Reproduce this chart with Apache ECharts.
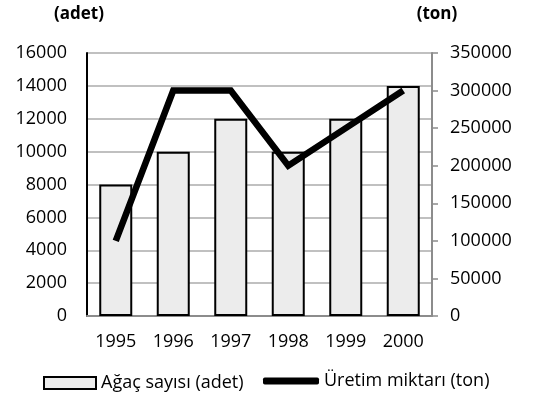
<!DOCTYPE html>
<html>
<head>
<meta charset="utf-8">
<script src="https://cdn.jsdelivr.net/npm/echarts@6/dist/echarts.min.js"></script>
<style>
  html, body { margin: 0; padding: 0; background: #fff; }
  #chart { width: 533px; height: 414px; }
</style>
</head>
<body>
<div id="chart"></div>
<script>
// veriler
var years = ['1995', '1996', '1997', '1998', '1999', '2000'];
var agacSayisi = [8000, 10000, 12000, 10000, 12000, 14000];
var uretimMiktari = [100000, 300000, 300000, 200000, 250000, 300000];
var barName = 'Ağaç sayısı (adet)';
var lineName = 'Üretim miktarı (ton)';

var font = '"Open Sans", sans-serif';
var chart = echarts.init(document.getElementById('chart'));

// binlik ayırıcı olmadan yaz
function plain(v) {
    return String(v);
}

var option = {
    animation: false,
    textStyle: { fontFamily: font },
    grid: { left: 87, right: 101, top: 53, bottom: 98 },
    legend: [
        {
            left: 38,
            bottom: 17,
            itemWidth: 52,
            itemHeight: 12,
            itemGap: 4,
            textStyle: { fontSize: 18, color: '#000', fontFamily: font },
            data: [{ name: barName, icon: 'rect' }]
        },
        {
            left: 258,
            bottom: 19,
            itemWidth: 56,
            itemHeight: 7,
            itemGap: 4,
            textStyle: { fontSize: 18, color: '#000', fontFamily: font },
            data: [{ name: lineName, icon: 'roundRect', itemStyle: { color: '#000', borderWidth: 0 } }]
        }
    ],
    xAxis: {
        type: 'category',
        data: years,
        axisLine: { lineStyle: { color: '#8c8c8c', width: 2 } },
        axisTick: { show: false },
        axisLabel: { color: '#000', fontSize: 18, margin: 17 }
    },
    yAxis: [
        {
            type: 'value',
            min: 0,
            max: 16000,
            interval: 2000,
            name: '(adet)',
            nameLocation: 'end',
            nameGap: 30,
            nameTextStyle: { fontWeight: 'bold', fontSize: 17, color: '#000', padding: [0, 16, 0, 0] },
            axisLine: { show: true, lineStyle: { color: '#000', width: 2 } },
            axisTick: { show: false },
            axisLabel: { color: '#000', fontSize: 18, margin: 20, formatter: plain },
            splitLine: { lineStyle: { color: '#c0c0c0', width: 2 } }
        },
        {
            type: 'value',
            min: 0,
            max: 350000,
            interval: 50000,
            name: '(ton)',
            nameLocation: 'end',
            nameGap: 30,
            nameTextStyle: { fontWeight: 'bold', fontSize: 17, color: '#000', padding: [0, 0, 0, 10] },
            axisLine: { show: true, lineStyle: { color: '#8c8c8c', width: 2 } },
            axisTick: { show: true, length: 6, lineStyle: { color: '#8c8c8c', width: 1.5 } },
            axisLabel: { color: '#000', fontSize: 18, margin: 18, formatter: plain },
            splitLine: { show: false }
        }
    ],
    series: [
        {
            name: barName,
            type: 'bar',
            data: agacSayisi,
            barWidth: 33,
            itemStyle: { color: '#ececec', borderColor: '#000', borderWidth: 2 }
        },
        {
            name: lineName,
            type: 'line',
            yAxisIndex: 1,
            data: uretimMiktari,
            showSymbol: false,
            symbol: 'none',
            lineStyle: { color: '#000', width: 6.5, join: 'miter' },
            itemStyle: { color: '#000' }
        }
    ]
};

chart.setOption(option);
</script>
</body>
</html>
